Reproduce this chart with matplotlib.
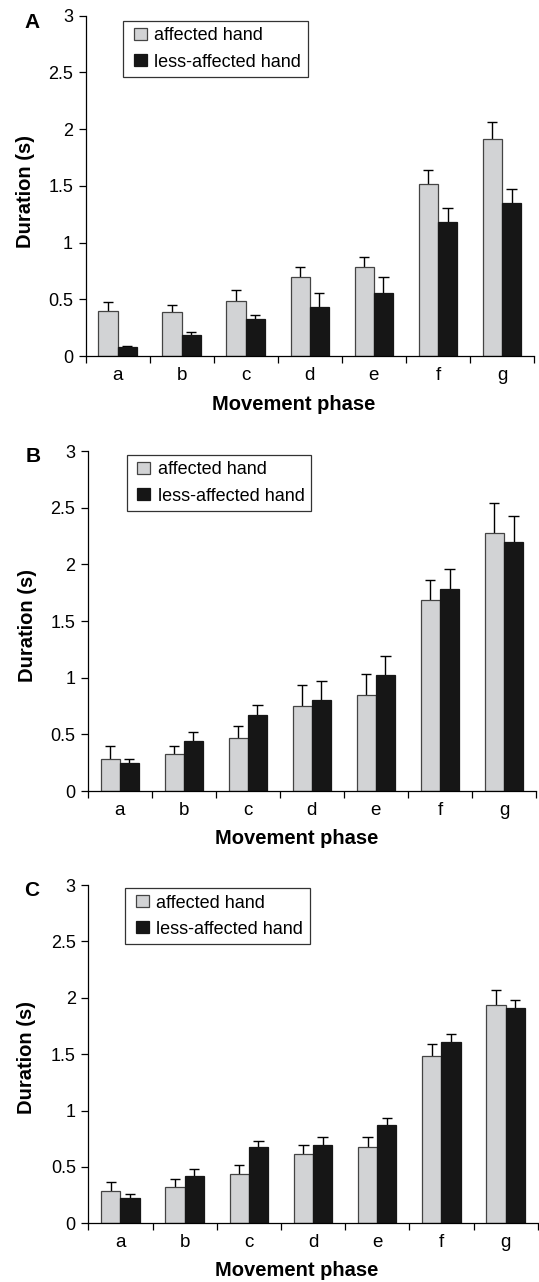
import numpy as np
import matplotlib.pyplot as plt
from matplotlib.patches import Patch, Rectangle
from matplotlib.legend_handler import HandlerPatch

plt.rcParams['font.family'] = ['Liberation Sans', 'DejaVu Sans']

phases = ['a', 'b', 'c', 'd', 'e', 'f', 'g']
series_names = ['affected hand', 'less-affected hand']

# panel A: means and upper ends of the error bars
a_affected = [0.40, 0.39, 0.49, 0.70, 0.79, 1.515, 1.915]
a_affected_top = [0.48, 0.455, 0.58, 0.79, 0.87, 1.64, 2.06]
a_less = [0.082, 0.185, 0.33, 0.43, 0.56, 1.18, 1.35]
a_less_top = [0.09, 0.21, 0.365, 0.56, 0.70, 1.305, 1.475]

# panel B
b_affected = [0.285, 0.325, 0.465, 0.75, 0.845, 1.685, 2.28]
b_affected_top = [0.40, 0.40, 0.57, 0.935, 1.035, 1.865, 2.545]
b_less = [0.248, 0.44, 0.675, 0.807, 1.027, 1.778, 2.193]
b_less_top = [0.285, 0.52, 0.762, 0.97, 1.192, 1.958, 2.427]

# panel C
c_affected = [0.285, 0.325, 0.441, 0.612, 0.678, 1.485, 1.94]
c_affected_top = [0.364, 0.39, 0.521, 0.698, 0.769, 1.592, 2.071]
c_less = [0.225, 0.417, 0.678, 0.692, 0.876, 1.604, 1.905]
c_less_top = [0.26, 0.479, 0.728, 0.769, 0.938, 1.68, 1.982]

yticks = [0, 0.5, 1, 1.5, 2, 2.5, 3]
ytick_labels = ['0', '0.5', '1', '1.5', '2', '2.5', '3']

W, H = 539, 1282
fig = plt.figure(figsize=(W / 100, H / 100), dpi=100)

gray = '#d2d3d5'
black = '#161616'


def px(l, t, r, b):
    return [l / W, 1 - b / H, (r - l) / W, (b - t) / H]


def square(legend, orig_handle, xdescent, ydescent, width, height, fontsize):
    sw = 0.72 * fontsize
    sh = 0.66 * fontsize
    return Rectangle((-xdescent + width - sw, -ydescent + (height - sh) / 2), sw, sh)


def panel(rect, aff, aff_top, less, less_top, letter, letter_xy, ylab_xy, xlab_xy, leg_xy):
    ax = fig.add_axes(px(*rect))
    x = np.arange(len(phases))
    w = 0.3
    cap = 0.08
    for xs, vals, tops, col, ec in [(x - 0.15, aff, aff_top, gray, '#444444'),
                                     (x + 0.15, less, less_top, black, black)]:
        ax.vlines(xs, vals, tops, color='black', lw=1.0, zorder=1)
        ax.hlines(tops, xs - cap, xs + cap, color='black', lw=1.0, zorder=1)
        ax.bar(xs, vals, width=w, color=col, edgecolor=ec, linewidth=0.9, zorder=2)

    ax.set_xlim(-0.5, len(phases) - 0.5)
    ax.set_ylim(0, 3)
    ax.set_yticks(yticks)
    ax.set_yticklabels(ytick_labels, fontsize=13)
    ax.set_xticks(np.arange(len(phases) + 1) - 0.5)
    ax.set_xticklabels([])
    ax.set_xticks(x, minor=True)
    ax.set_xticklabels(phases, minor=True, fontsize=13.5)
    ax.tick_params(axis='x', which='major', direction='out', length=5, width=0.9)
    ax.tick_params(axis='x', which='minor', length=0, pad=8)
    ax.tick_params(axis='y', direction='out', length=5, width=0.9, pad=4)
    for s in ['top', 'right']:
        ax.spines[s].set_visible(False)
    for s in ['left', 'bottom']:
        ax.spines[s].set_linewidth(0.9)

    handles = [Patch(facecolor=gray, edgecolor='#444444', linewidth=0.9),
               Patch(facecolor=black, edgecolor=black, linewidth=0.9)]
    leg = fig.legend(handles, series_names, loc='upper left',
                     bbox_to_anchor=(leg_xy[0] / W, 1 - leg_xy[1] / H),
                     fontsize=13, frameon=True, fancybox=False, borderaxespad=0,
                     handlelength=0.97, handleheight=0.8, handletextpad=0.42,
                     labelspacing=0.5, borderpad=0.35,
                     handler_map={Patch: HandlerPatch(patch_func=square)})
    leg.get_frame().set_edgecolor('black')
    leg.get_frame().set_linewidth(0.9)

    fig.text(letter_xy[0] / W, 1 - letter_xy[1] / H, letter, fontsize=15,
             fontweight='bold', ha='center', va='center')
    fig.text(ylab_xy[0] / W, 1 - ylab_xy[1] / H, 'Duration (s)', fontsize=14.5,
             fontweight='bold', rotation=90, ha='center', va='center')
    fig.text(xlab_xy[0] / W, 1 - xlab_xy[1] / H, 'Movement phase', fontsize=14.5,
             fontweight='bold', ha='center', va='center')
    return ax


panel((85.5, 15.5, 534, 356.3), a_affected, a_affected_top, a_less, a_less_top,
      'A', (32.5, 23), (25.8, 191), (294, 405), (123, 21))
panel((87.7, 451, 536, 791), b_affected, b_affected_top, b_less, b_less_top,
      'B', (32.7, 456), (27.5, 625), (296.5, 839), (126.5, 455))
panel((88.3, 885, 537.7, 1223.3), c_affected, c_affected_top, c_less, c_less_top,
      'C', (32, 890), (27, 1058), (296.5, 1271), (125, 888))

fig.savefig('out.png', dpi=100)
